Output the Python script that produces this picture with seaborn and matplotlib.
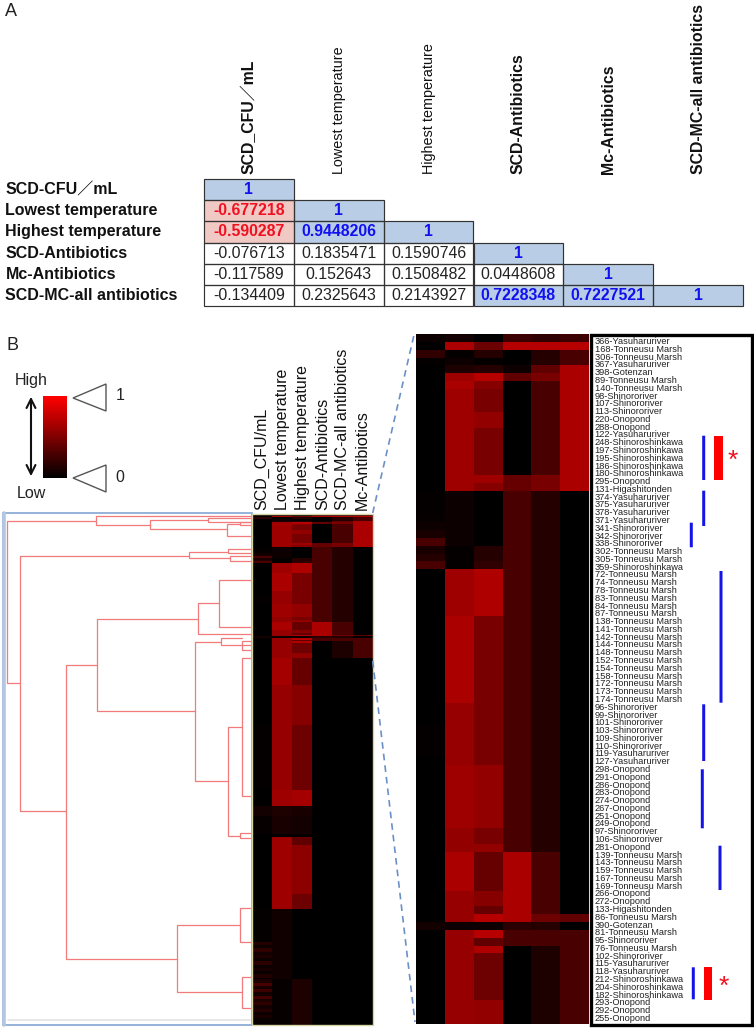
import numpy as np
import matplotlib
matplotlib.use('Agg')
import matplotlib.pyplot as plt
import seaborn as sns
from matplotlib.colors import BoundaryNorm, LinearSegmentedColormap, ListedColormap
from matplotlib.patches import Polygon, Rectangle

sns.set_theme(style='white')
plt.rcParams['font.family'] = ['Liberation Sans', 'Noto Sans CJK JP']

W, H = 754, 1033

# panel A
corr_rows = ['SCD-CFU／mL', 'Lowest temperature', 'Highest temperature',
             'SCD-Antibiotics', 'Mc-Antibiotics', 'SCD-MC-all antibiotics']
corr_cols = ['SCD_CFU／mL', 'Lowest temperature', 'Highest temperature',
             'SCD-Antibiotics', 'Mc-Antibiotics', 'SCD-MC-all antibiotics']
corr_col_bold = [True, False, False, True, True, True]
corr_values = [
    [1, np.nan, np.nan, np.nan, np.nan, np.nan],
    [-0.677218, 1, np.nan, np.nan, np.nan, np.nan],
    [-0.590287, 0.9448206, 1, np.nan, np.nan, np.nan],
    [-0.076713, 0.1835471, 0.1590746, 1, np.nan, np.nan],
    [-0.117589, 0.152643, 0.1508482, 0.0448608, 1, np.nan],
    [-0.134409, 0.2325643, 0.2143927, 0.7228348, 0.7227521, 1],
]

# panel B, enlarged part, one list per column
strains = [
    '366-Yasuharuriver', '168-Tonneusu Marsh', '306-Tonneusu Marsh', '367-Yasuharuriver', '398-Gotenzan',
    '89-Tonneusu Marsh', '140-Tonneusu Marsh', '98-Shinororiver', '107-Shinororiver', '113-Shinororiver',
    '220-Onopond', '288-Onopond', '122-Yasuharuriver', '248-Shinoroshinkawa', '197-Shinoroshinkawa',
    '195-Shinoroshinkawa', '186-Shinoroshinkawa', '180-Shinoroshinkawa', '295-Onopond', '131-Higashitonden',
    '374-Yasuharuriver', '375-Yasuharuriver', '378-Yasuharuriver', '371-Yasuharuriver', '341-Shinororiver',
    '342-Shinororiver', '338-Shinororiver', '302-Tonneusu Marsh', '305-Tonneusu Marsh', '359-Shinoroshinkawa',
    '72-Tonneusu Marsh', '74-Tonneusu Marsh', '78-Tonneusu Marsh', '83-Tonneusu Marsh', '84-Tonneusu Marsh',
    '87-Tonneusu Marsh', '138-Tonneusu Marsh', '141-Tonneusu Marsh', '142-Tonneusu Marsh', '144-Tonneusu Marsh',
    '148-Tonneusu Marsh', '152-Tonneusu Marsh', '154-Tonneusu Marsh', '158-Tonneusu Marsh', '172-Tonneusu Marsh',
    '173-Tonneusu Marsh', '174-Tonneusu Marsh', '96-Shinororiver', '99-Shinororiver', '101-Shinororiver',
    '103-Shinororiver', '109-Shinororiver', '110-Shinororiver', '119-Yasuharuriver', '127-Yasuharuriver',
    '298-Onopond', '291-Onopond', '286-Onopond', '283-Onopond', '274-Onopond',
    '267-Onopond', '251-Onopond', '249-Onopond', '97-Shinororiver', '106-Shinororiver',
    '281-Onopond', '139-Tonneusu Marsh', '143-Tonneusu Marsh', '159-Tonneusu Marsh', '167-Tonneusu Marsh',
    '169-Tonneusu Marsh', '266-Onopond', '272-Onopond', '133-Higashitonden', '86-Tonneusu Marsh',
    '390-Gotenzan', '81-Tonneusu Marsh', '95-Shinororiver', '76-Tonneusu Marsh', '102-Shinororiver',
    '115-Yasuharuriver', '118-Yasuharuriver', '212-Shinoroshinkawa', '204-Shinoroshinkawa', '182-Shinoroshinkawa',
    '293-Onopond', '292-Onopond', '255-Onopond',
]

zoom_cfu = [
    .05, 0, .2, .02, 0, 0, 0, 0, 0, 0,
    0, 0, 0, 0, 0, 0, 0, 0, 0, 0,
    .02, .02, .02, .03, .05, .1, .3, .1, .15, .3,
    0, 0, 0, 0, 0, 0, 0, 0, 0, 0,
    0, 0, 0, 0, 0, 0, 0, 0, 0, 0,
    .02, .02, .02, .02, 0, 0, 0, 0, 0, 0,
    0, 0, 0, 0, 0, 0, 0, 0, 0, 0,
    0, 0, 0, 0, 0, .08, 0, 0, 0, 0,
    0, 0, 0, 0, 0, 0, 0, 0,
]
zoom_low = [
    .08, .7, .02, .05, .12, .65, .7, .65, .65, .65,
    .65, .65, .65, .65, .65, .65, .65, .65, .65, .65,
    .05, .05, .05, .05, .05, .05, .05, .02, .02, .02,
    .65, .65, .65, .65, .65, .65, .7, .7, .7, .7,
    .7, .7, .7, .7, .7, .7, .7, .62, .62, .62,
    .62, .62, .62, .62, .62, .65, .65, .65, .65, .65,
    .65, .65, .65, .6, .6, .6, .7, .7, .7, .7,
    .7, .62, .62, .62, .62, .05, .62, .62, .62, .62,
    .62, .62, .62, .62, .62, .62, .62, .62,
]
zoom_high = [
    0, .45, .15, .02, .15, .75, .55, .5, .5, .5,
    .6, .6, .5, .5, .5, .5, .5, .5, .65, .55,
    0, 0, 0, 0, 0, 0, 0, .15, .15, .2,
    .72, .72, .72, .72, .72, .72, .5, .5, .5, .5,
    .5, .5, .5, .5, .5, .5, .5, .5, .5, .5,
    .5, .5, .5, .5, .5, .6, .6, .6, .6, .6,
    .6, .6, .6, .5, .5, .6, .42, .42, .42, .42,
    .42, .55, .55, .42, .75, .05, .75, .4, .72, .45,
    .45, .45, .45, .45, .45, .6, .6, .6,
]
zoom_anti = [
    .25, .75, 0, 0, .05, .4, 0, 0, 0, 0,
    0, 0, 0, 0, 0, 0, 0, 0, .42, .42,
    .3, .3, .3, .3, .3, .3, .3, .3, .3, .3,
    .3, .3, .3, .3, .3, .3, .3, .3, .3, .3,
    .3, .3, .3, .3, .3, .3, .3, .3, .3, .3,
    .3, .3, .3, .3, .3, .3, .3, .3, .3, .3,
    .3, .3, .3, .3, .3, .3, .7, .7, .7, .7,
    .7, .7, .7, .7, .7, .18, .3, .3, 0, 0,
    0, 0, 0, 0, 0, 0, 0, 0,
]
zoom_mcall = [
    .2, .75, .15, .15, .4, .5, .3, .3, .3, .3,
    .3, .3, .3, .3, .3, .3, .3, .3, .5, .5,
    .15, .15, .15, .15, .15, .15, .15, .15, .15, .15,
    .15, .15, .15, .15, .15, .15, .15, .15, .15, .15,
    .15, .15, .15, .15, .15, .15, .15, .15, .15, .15,
    .15, .15, .15, .15, .15, .15, .15, .15, .15, .15,
    .15, .15, .15, .15, .15, .15, .3, .3, .3, .3,
    .3, .3, .3, .3, .45, .15, .3, .3, .12, .12,
    .12, .12, .12, .12, .12, .12, .12, .12,
]
zoom_mc = [
    .25, .75, .3, .3, .7, .7, .7, .7, .7, .7,
    .7, .7, .7, .7, .7, .7, .7, .7, .7, .7,
    0, 0, 0, 0, 0, 0, 0, 0, 0, 0,
    0, 0, 0, 0, 0, 0, 0, 0, 0, 0,
    0, 0, 0, 0, 0, 0, 0, 0, 0, 0,
    0, 0, 0, 0, 0, 0, 0, 0, 0, 0,
    0, 0, 0, 0, 0, 0, 0, 0, 0, 0,
    0, 0, 0, 0, .4, 0, .3, .3, .3, .3,
    .3, .3, .3, .3, .3, .3, .3, .3,
]

# rest of the overview heatmap, as bands of rows (last three columns are black there)
band_rows = [17, 24, 40, 10, 6, 11, 2, 5, 30, 9, 20,
             2, 2, 2, 2, 2, 2, 2, 2, 2, 2, 2, 1,
             2, 2, 2, 2, 2, 2, 2, 2, 2, 2, 2, 2, 2, 2]
band_cfu = [0, 0, .02, 0, .08, .03, 0, 0, 0, 0, .02,
            .15, .05, .2, .08, .12, .05, .18, .05, .1, .04, .14, .03,
            .12, .3, .1, .25, .08, .28, .12, .2, .08, .15, .05, .1, .04, .03]
band_low = [.68, .62, .62, .65, .12, .1, .02, .65, .65, .65, .07,
            .07, .07, .07, .07, .07, .07, .07, .07, .07, .07, .07, .07,
            .03, .03, .03, .03, .03, .03, .03, .03, .03, .03, .03, .03, .03, .03]
band_high = [.42, .55, .45, .68, .1, .08, .02, .4, .58, .45, 0,
             0, 0, 0, 0, 0, 0, 0, 0, 0, 0, 0, 0,
             .12, .12, .12, .12, .12, .12, .12, .12, .12, .12, .12, .12, .12, .12]

heat_labels = ['SCD_CFU/mL', 'Lowest temperature', 'Highest temperature',
               'SCD-Antibiotics', 'SCD-MC-all antibiotics', 'Mc-Antibiotics']

# dendrogram merges: height, row of upper and lower branch, height of their children
node_height = [245, 156, 102, 44, 25.3, 12, 232.5, 63, 24, 22, 186.3, 155,
               54, 33, 57, 31.3, 10.3, 23.7, 10.3, 12, 75.3, 12, 10.3]
node_top = [4.1, 1.2, 3.7, 2.5, 6.1, 5, 25.6, 23.1, 21.5, 25.8, 92.6, 64.4,
            54.8, 40.5, 78.3, 76.1, 78, 130.5, 88.5, 195.7, 251.5, 241.5, 283.9]
node_bottom = [103.7, 6.7, 9.4, 4.9, 13.3, 7, 182.2, 27.2, 23.9, 28.8, 272.6, 120.7,
               73.8, 69.1, 163.8, 80.4, 83.4, 197.1, 173, 198.2, 293, 262, 302.3]
child_top = [156, 0, 44, 0, 12, 0, 63, 24, 0, 0, 155, 54,
             33, 0, 31.3, 10.3, 0, 10.3, 0, 0, 12, 0, 0]
child_bottom = [232.5, 102, 25.3, 0, 0, 0, 186.3, 22, 0, 0, 75.3, 57,
                0, 0, 23.7, 0, 0, 12, 0, 0, 10.3, 0, 0]


def px_axes(fig, x0, y0, x1, y1):
    return fig.add_axes([x0 / W, 1 - y1 / H, (x1 - x0) / W, (y1 - y0) / H])


fig = plt.figure(figsize=(W / 100, H / 100), dpi=100)
black_red = LinearSegmentedColormap.from_list('black_red', ['#000000', '#ff0000'])

# correlation table
ax = px_axes(fig, 204, 179, 743, 306)
corr_cmap = ListedColormap(['#f0c8c4', '#ffffff', '#b9cde6'])
corr_norm = BoundaryNorm([-1, -0.5, 0.7, 1.01], 3)
corr_array = np.array(corr_values)
sns.heatmap(corr_array, ax=ax, cmap=corr_cmap, norm=corr_norm, cbar=False,
            annot=True, fmt='.7g', annot_kws={'fontsize': 11.4, 'color': '#222222'},
            xticklabels=corr_cols, yticklabels=corr_rows)
for i, row in enumerate(corr_values):
    for j, v in enumerate(row):
        if not np.isnan(v):
            ax.add_patch(Rectangle((j, i), 1, 1, fill=False, ec='#333333', lw=0.85, clip_on=False))
for t in ax.texts:
    v = float(t.get_text())
    if v >= 0.7:
        t.set_color('#1010f0')
        t.set_fontweight('bold')
    elif v <= -0.5:
        t.set_color('#f01020')
        t.set_fontweight('bold')
ax.xaxis.tick_top()
ax.tick_params(length=0)
ax.tick_params(axis='x', pad=3.5)
ax.tick_params(axis='y', pad=143)
for lab, bold in zip(ax.get_xticklabels(), corr_col_bold):
    lab.set_rotation(90)
    lab.set_ha('center')
    lab.set_fontsize(11.4 if bold else 10.4)
    lab.set_fontweight('bold' if bold else 'normal')
    lab.set_color('#111111')
for lab in ax.get_yticklabels():
    lab.set_rotation(0)
    lab.set_ha('left')
    lab.set_fontsize(11.5)
    lab.set_fontweight('bold')
    lab.set_color('#111111')

# overview heatmap
zoom_part = np.column_stack([zoom_cfu, zoom_low, zoom_high, zoom_anti, zoom_mcall, zoom_mc])
n_tail = len(band_rows)
band_part = np.column_stack([band_cfu, band_low, band_high, np.zeros(n_tail), np.zeros(n_tail), np.zeros(n_tail)])
overview = np.vstack([zoom_part, np.repeat(band_part, band_rows, axis=0)])

ax = px_axes(fig, 252, 514, 372.7, 1025)
sns.heatmap(overview, ax=ax, cmap=black_red, vmin=0, vmax=1.05, cbar=False,
            xticklabels=heat_labels, yticklabels=False)
ax.xaxis.tick_top()
ax.tick_params(length=0, pad=3)
for lab in ax.get_xticklabels():
    lab.set_rotation(90)
    lab.set_ha('center')
    lab.set_fontsize(11.5)
    lab.set_color('#111111')

# dendrogram
ax = px_axes(fig, 2, 514, 252, 1025)
for h, top, bottom, c_top, c_bottom in zip(node_height, node_top, node_bottom, child_top, child_bottom):
    ax.plot([c_top, h, h, c_bottom], [top, top, bottom, bottom], color='#f27a7a', lw=0.9, solid_joinstyle='miter')
ax.set_xlim(250, 0)
ax.set_ylim(overview.shape[0], 0)
ax.axis('off')

# enlarged heatmap
ax = px_axes(fig, 416, 334, 589, 1024)
sns.heatmap(zoom_part, ax=ax, cmap=black_red, vmin=0, vmax=1.05, cbar=False,
            xticklabels=False, yticklabels=False)
ax.yaxis.tick_right()
ax.set_yticks(np.linspace(0.85, 87.15, len(strains)))
ax.set_yticklabels(strains)
ax.tick_params(length=0, pad=4)
for lab in ax.get_yticklabels():
    lab.set_rotation(0)
    lab.set_fontsize(6.7)
    lab.set_color('#222222')

# colour key
ax = px_axes(fig, 43, 396, 67, 478)
sns.heatmap(np.linspace(1, 0, 80).reshape(-1, 1), ax=ax, cmap=black_red, vmin=0, vmax=1,
            cbar=False, xticklabels=False, yticklabels=False)

# everything else sits on a pixel overlay
ov = fig.add_axes([0, 0, 1, 1], facecolor='none')
ov.set_xlim(0, W)
ov.set_ylim(H, 0)
ov.axis('off')

ov.text(5, 11, 'A', fontsize=13, va='center', color='#222222')
ov.text(7, 345, 'B', fontsize=13, va='center', color='#222222')
ov.text(31, 381, 'High', fontsize=11.5, va='center', ha='center', color='#222222')
ov.text(31, 493, 'Low', fontsize=11.5, va='center', ha='center', color='#222222')
ov.text(120, 396, '1', fontsize=11.5, va='center', ha='center', color='#222222')
ov.text(120, 477, '0', fontsize=11.5, va='center', ha='center', color='#222222')
ov.annotate('', xy=(31, 394), xytext=(31, 479),
            arrowprops=dict(arrowstyle='<->', color='#111111', lw=1.5, mutation_scale=16))
ov.add_patch(Polygon([(73, 398), (106, 384), (106, 411)], closed=True, fill=False, ec='#555555', lw=1))
ov.add_patch(Polygon([(73, 478), (106, 465), (106, 492)], closed=True, fill=False, ec='#555555', lw=1))

# frames
ov.add_patch(Rectangle((3, 513), 249, 512, fill=False, ec='#8fadd8', lw=1.3))
ov.plot([4, 4], [513, 1025], color='#b4c7e2', lw=2.6)
ov.plot([8, 250], [1020, 1020], color='#e6e6e6', lw=1.3)
ov.add_patch(Rectangle((252, 514), 120.7, 511, fill=False, ec='#d5d5a5', lw=1))
ov.add_patch(Rectangle((590.5, 335), 161.5, 690, fill=False, ec='black', lw=2.4))
ov.plot([372.7, 414], [513, 335], color='#6b90c8', lw=1.2, ls=(0, (4, 3)))
ov.plot([372.7, 415], [661, 1022], color='#6b90c8', lw=1.2, ls=(0, (4, 3)))

# group marks beside the strain names
for x, y0, y1 in [(703.7, 435.7, 480), (703.7, 490.7, 526), (691.3, 522.7, 547.3), (721, 571, 702.7),
                  (703.7, 704.3, 761), (702.3, 769.3, 828.3), (720, 845.7, 890), (693.3, 967.3, 999.3)]:
    ov.add_patch(Rectangle((x - 1.5, y0), 3, y1 - y0, color='#1414e6', lw=0, snap=False))
ov.add_patch(Rectangle((714.3, 435.7), 8.4, 44.3, color='#ff0000', lw=0))
ov.add_patch(Rectangle((703.7, 967.3), 8.3, 32.7, color='#ff0000', lw=0))
ov.text(733, 461, '*', fontsize=19, color='#f01020', ha='center', va='center')
ov.text(724, 987, '*', fontsize=19, color='#f01020', ha='center', va='center')

fig.savefig('out.png', dpi=100)
